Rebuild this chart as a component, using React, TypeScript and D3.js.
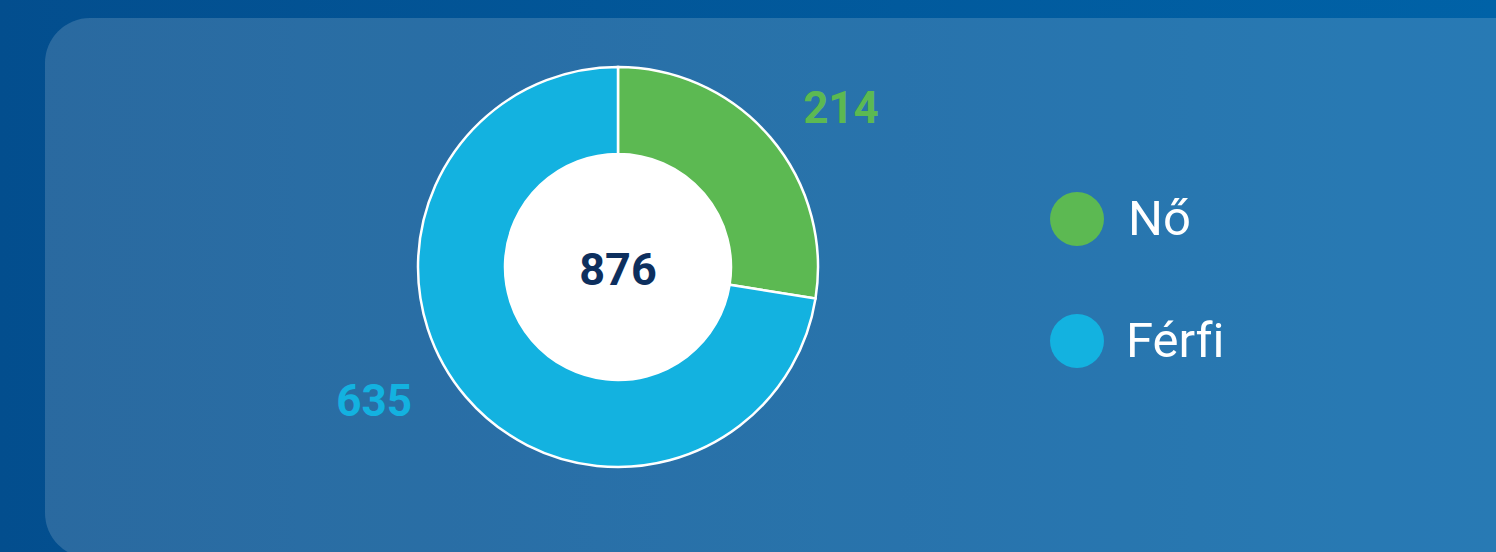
import React from "react";
import * as d3 from "d3";

// ---- data ----
const categories = ["Nő", "Férfi"];
const values = [214, 635];
const total = 876;
const colors = ["#5cb952", "#13b2e0"];

// ---- layout ----
const W = 1496;
const H = 552;
const cx = 618;
const cy = 267;
const outerR = 200;
const innerR = 113;
const labelPos = [
  { dx: 223, dy: -144, anchor: "middle" },
  { dx: -244, dy: 149, anchor: "middle" },
];

export default function App() {
  // Angle scale over the overall total; the Férfi slice is measured from the end,
  // the Nő slice fills the rest, as in the reference.
  const angle = d3.scaleLinear().domain([0, total]).range([0, 2 * Math.PI]);
  const blueStart = 2 * Math.PI - angle(values[1]);
  const slices = [
    { start: 0, end: blueStart, color: colors[0] },
    { start: blueStart, end: 2 * Math.PI, color: colors[1] },
  ];
  const arc = d3.arc<any>().innerRadius(innerR).outerRadius(outerR);

  return (
    <svg
      width={W}
      height={H}
      style={{ position: "absolute", left: 0, top: 0, display: "block", fontVariantLigatures: "none" }}
      fontFamily="Roboto, 'Noto Sans', sans-serif"
    >
      <defs>
        <linearGradient id="bg" x1="0" y1="0" x2="1" y2="0">
          <stop offset="0" stopColor="#034e8e" />
          <stop offset="1" stopColor="#0062a7" />
        </linearGradient>
      </defs>
      <rect x={0} y={0} width={W} height={H} fill="url(#bg)" />
      <rect x={45} y={18} width={W + 60} height={540} rx={45} ry={45} fill="#ffffff" fillOpacity={0.155} />

      <g transform={`translate(${cx},${cy})`}>
        {slices.map((s, i) => (
          <path
            key={i}
            d={arc({ startAngle: s.start, endAngle: s.end }) as string}
            fill={s.color}
            stroke="#ffffff"
            strokeWidth={2.5}
          />
        ))}
        <circle r={innerR} fill="#ffffff" />
        <text
          x={0}
          y={18}
          textAnchor="middle"
          fontSize={45}
          fontWeight={700}
          fill="#0d2f5e"
        >
          {total}
        </text>
        {values.map((v, i) => (
          <text
            key={i}
            x={labelPos[i].dx}
            y={labelPos[i].dy}
            textAnchor={labelPos[i].anchor as any}
            fontSize={44}
            fontWeight={700}
            fill={colors[i]}
          >
            {v}
          </text>
        ))}
      </g>

      <g>
        {categories.map((c, i) => (
          <g key={c} transform={`translate(1077,${219 + i * 122})`}>
            <circle r={27} fill={colors[i]} />
            <text
              x={51 - i * 2}
              y={16}
              fontSize={49}
              fill="#ffffff"
              style={{ fontVariantLigatures: "none", fontFeatureSettings: "'liga' 0" }}
            >
              {c}
            </text>
          </g>
        ))}
      </g>
    </svg>
  );
}
